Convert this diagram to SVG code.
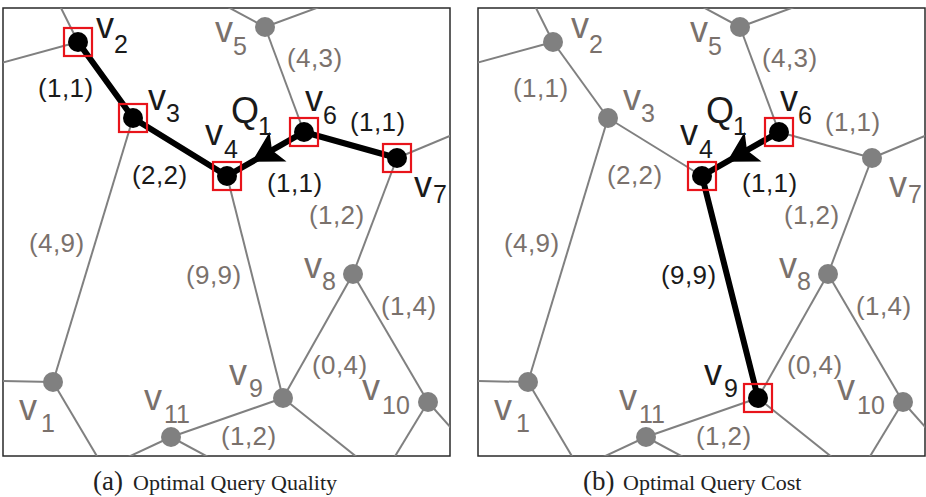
<svg xmlns="http://www.w3.org/2000/svg" width="926" height="497" viewBox="0 0 926 497">
<style>
.frame{fill:#fff;stroke:#2a2a2a;stroke-width:1.5}
.e{stroke:#808080;stroke-width:2;fill:none}
.p{stroke:#000;stroke-width:6;fill:none;stroke-linecap:round}
.gn{fill:#808080}
.bn{fill:#000}
.sq{fill:none;stroke:#e8141b;stroke-width:2.2}
.v{font-family:"Liberation Sans",Arial,sans-serif;font-size:36px}
.s{font-family:"Liberation Sans",Arial,sans-serif;font-size:25px}
.l{font-family:"Liberation Sans",Arial,sans-serif;font-size:26px;letter-spacing:0.4px}
.g{fill:#7a716c}
.k{fill:#1a1a1a}
.cap{font-family:"Liberation Serif","Times New Roman",serif;font-size:22px;fill:#222}
</style>
<defs>
<clipPath id="clipA"><rect x="3" y="8" width="447" height="448"/></clipPath>
</defs>

<!-- Panel (a) -->
<g id="panel-a">
<rect class="frame" x="3" y="8" width="447" height="448"/>
<g id="a-connectors" clip-path="url(#clipA)">
<line class="e" x1="78" y1="42" x2="60" y2="6"/>
<line class="e" x1="78" y1="42" x2="1" y2="63"/>
<line class="e" x1="133" y1="118" x2="53" y2="382"/>
<line class="e" x1="53" y1="382" x2="1" y2="381"/>
<line class="e" x1="53" y1="382" x2="98" y2="458"/>
<line class="e" x1="171" y1="437" x2="126" y2="458"/>
<line class="e" x1="171" y1="437" x2="283" y2="398"/>
<line class="e" x1="171" y1="437" x2="210" y2="458"/>
<line class="e" x1="227" y1="176" x2="283" y2="398"/>
<line class="e" x1="304" y1="132" x2="265" y2="27"/>
<line class="e" x1="265" y1="27" x2="226" y2="6"/>
<line class="e" x1="265" y1="27" x2="322" y2="6"/>
<line class="e" x1="397" y1="158" x2="452" y2="135"/>
<line class="e" x1="397" y1="158" x2="353" y2="274"/>
<line class="e" x1="353" y1="274" x2="283" y2="398"/>
<line class="e" x1="353" y1="274" x2="428" y2="402"/>
<line class="e" x1="428" y1="402" x2="452" y2="429"/>
<line class="e" x1="428" y1="402" x2="394" y2="458"/>
<line class="e" x1="283" y1="398" x2="358" y2="458"/>
<polyline class="p" points="78,42 133,118 227,176"/>
<polyline class="p" points="397,158 304,132 227,176"/>
<polygon points="252,161.7 286.5,161.6 272,150.3 269.6,132" fill="#000"/>
</g>
<g id="a-v1"><circle class="gn" cx="53" cy="382" r="10"/><text class="v g" x="19" y="420">v</text><text class="s g" x="41" y="432">1</text></g>
<g id="a-v2"><circle class="bn" cx="78" cy="42" r="10"/><rect class="sq" x="64" y="28" width="28" height="28"/><text class="v k" x="96" y="38">v</text><text class="s k" x="114" y="53">2</text></g>
<g id="a-v3"><circle class="bn" cx="133" cy="118" r="10"/><rect class="sq" x="119" y="104" width="28" height="28"/><text class="v k" x="148" y="110">v</text><text class="s k" x="166" y="122">3</text></g>
<g id="a-v4"><circle class="bn" cx="227" cy="176" r="10"/><rect class="sq" x="213" y="162" width="28" height="28"/><text class="v k" x="205" y="145">v</text><text class="s k" x="224" y="158">4</text></g>
<g id="a-v5"><circle class="gn" cx="265" cy="27" r="10"/><text class="v g" x="215" y="42">v</text><text class="s g" x="233" y="55">5</text></g>
<g id="a-v6"><circle class="bn" cx="304" cy="132" r="10"/><rect class="sq" x="290" y="118" width="28" height="28"/><text class="v k" x="305" y="111">v</text><text class="s k" x="323" y="124">6</text></g>
<g id="a-v7"><circle class="bn" cx="397" cy="158" r="10"/><rect class="sq" x="383" y="144" width="28" height="28"/><text class="v k" x="414" y="197">v</text><text class="s k" x="433" y="203">7</text></g>
<g id="a-v8"><circle class="gn" cx="353" cy="274" r="10"/><text class="v g" x="304" y="278">v</text><text class="s g" x="322" y="290">8</text></g>
<g id="a-v9"><circle class="gn" cx="283" cy="398" r="10"/><text class="v g" x="229" y="385">v</text><text class="s g" x="249" y="397">9</text></g>
<g id="a-v10"><circle class="gn" cx="428" cy="402" r="10"/><text class="v g" x="362" y="400">v</text><text class="s g" x="382" y="414">10</text></g>
<g id="a-v11"><circle class="gn" cx="171" cy="437" r="10"/><text class="v g" x="144" y="410">v</text><text class="s g" x="164" y="423">11</text></g>
<g id="a-q1"><text class="v k" x="231" y="123">Q</text><text class="s k" x="258" y="135">1</text></g>
<g id="a-labels">
<text class="l k" x="38" y="97">(1,1)</text>
<text class="l k" x="132" y="184">(2,2)</text>
<text class="l k" x="350" y="131">(1,1)</text>
<text class="l k" x="267" y="192">(1,1)</text>
<text class="l g" x="287" y="67">(4,3)</text>
<text class="l g" x="309" y="224">(1,2)</text>
<text class="l g" x="29" y="252">(4,9)</text>
<text class="l g" x="186" y="284">(9,9)</text>
<text class="l g" x="381" y="315">(1,4)</text>
<text class="l g" x="312" y="374">(0,4)</text>
<text class="l g" x="221" y="445">(1,2)</text>
</g>
</g>

<!-- Panel (b) -->
<g id="panel-b" transform="translate(475,0)">
<rect class="frame" x="3" y="8" width="447" height="448"/>
<g id="b-connectors" clip-path="url(#clipA)">
<line class="e" x1="78" y1="42" x2="60" y2="6"/>
<line class="e" x1="78" y1="42" x2="1" y2="63"/>
<line class="e" x1="78" y1="42" x2="133" y2="118"/>
<line class="e" x1="133" y1="118" x2="227" y2="176"/>
<line class="e" x1="133" y1="118" x2="53" y2="382"/>
<line class="e" x1="53" y1="382" x2="1" y2="381"/>
<line class="e" x1="53" y1="382" x2="98" y2="458"/>
<line class="e" x1="171" y1="437" x2="126" y2="458"/>
<line class="e" x1="171" y1="437" x2="283" y2="398"/>
<line class="e" x1="171" y1="437" x2="210" y2="458"/>
<line class="e" x1="304" y1="132" x2="265" y2="27"/>
<line class="e" x1="265" y1="27" x2="226" y2="6"/>
<line class="e" x1="265" y1="27" x2="322" y2="6"/>
<line class="e" x1="304" y1="132" x2="397" y2="158"/>
<line class="e" x1="397" y1="158" x2="452" y2="135"/>
<line class="e" x1="397" y1="158" x2="353" y2="274"/>
<line class="e" x1="353" y1="274" x2="283" y2="398"/>
<line class="e" x1="353" y1="274" x2="428" y2="402"/>
<line class="e" x1="428" y1="402" x2="452" y2="429"/>
<line class="e" x1="428" y1="402" x2="394" y2="458"/>
<line class="e" x1="283" y1="398" x2="358" y2="458"/>
<polyline class="p" points="304,132 227,176 283,398"/>
<polygon points="252,161.7 286.5,161.6 272,150.3 269.6,132" fill="#000"/>
</g>
<g id="b-v1"><circle class="gn" cx="53" cy="382" r="10"/><text class="v g" x="19" y="420">v</text><text class="s g" x="41" y="432">1</text></g>
<g id="b-v2"><circle class="gn" cx="78" cy="42" r="10"/><text class="v g" x="96" y="38">v</text><text class="s g" x="114" y="53">2</text></g>
<g id="b-v3"><circle class="gn" cx="133" cy="118" r="10"/><text class="v g" x="148" y="110">v</text><text class="s g" x="166" y="122">3</text></g>
<g id="b-v4"><circle class="bn" cx="227" cy="176" r="10"/><rect class="sq" x="213" y="162" width="28" height="28"/><text class="v k" x="205" y="145">v</text><text class="s k" x="224" y="158">4</text></g>
<g id="b-v5"><circle class="gn" cx="265" cy="27" r="10"/><text class="v g" x="215" y="42">v</text><text class="s g" x="233" y="55">5</text></g>
<g id="b-v6"><circle class="bn" cx="304" cy="132" r="10"/><rect class="sq" x="290" y="118" width="28" height="28"/><text class="v k" x="305" y="111">v</text><text class="s k" x="323" y="124">6</text></g>
<g id="b-v7"><circle class="gn" cx="397" cy="158" r="10"/><text class="v g" x="414" y="197">v</text><text class="s g" x="433" y="203">7</text></g>
<g id="b-v8"><circle class="gn" cx="353" cy="274" r="10"/><text class="v g" x="304" y="278">v</text><text class="s g" x="322" y="290">8</text></g>
<g id="b-v9"><circle class="bn" cx="283" cy="398" r="10"/><rect class="sq" x="269" y="384" width="28" height="28"/><text class="v k" x="229" y="385">v</text><text class="s k" x="249" y="397">9</text></g>
<g id="b-v10"><circle class="gn" cx="428" cy="402" r="10"/><text class="v g" x="362" y="400">v</text><text class="s g" x="382" y="414">10</text></g>
<g id="b-v11"><circle class="gn" cx="171" cy="437" r="10"/><text class="v g" x="144" y="410">v</text><text class="s g" x="164" y="423">11</text></g>
<g id="b-q1"><text class="v k" x="231" y="123">Q</text><text class="s k" x="258" y="135">1</text></g>
<g id="b-labels">
<text class="l g" x="38" y="97">(1,1)</text>
<text class="l g" x="132" y="184">(2,2)</text>
<text class="l g" x="350" y="131">(1,1)</text>
<text class="l k" x="267" y="192">(1,1)</text>
<text class="l g" x="287" y="67">(4,3)</text>
<text class="l g" x="309" y="224">(1,2)</text>
<text class="l g" x="29" y="252">(4,9)</text>
<text class="l k" x="186" y="284">(9,9)</text>
<text class="l g" x="381" y="315">(1,4)</text>
<text class="l g" x="312" y="374">(0,4)</text>
<text class="l g" x="221" y="445">(1,2)</text>
</g>
</g>

<g id="captions">
<text class="cap" x="93" y="490"><tspan font-size="27">(a)</tspan><tspan x="133">Optimal Query Quality</tspan></text>
<text class="cap" x="583" y="490"><tspan font-size="27">(b)</tspan><tspan x="623">Optimal Query Cost</tspan></text>
</g>
</svg>
